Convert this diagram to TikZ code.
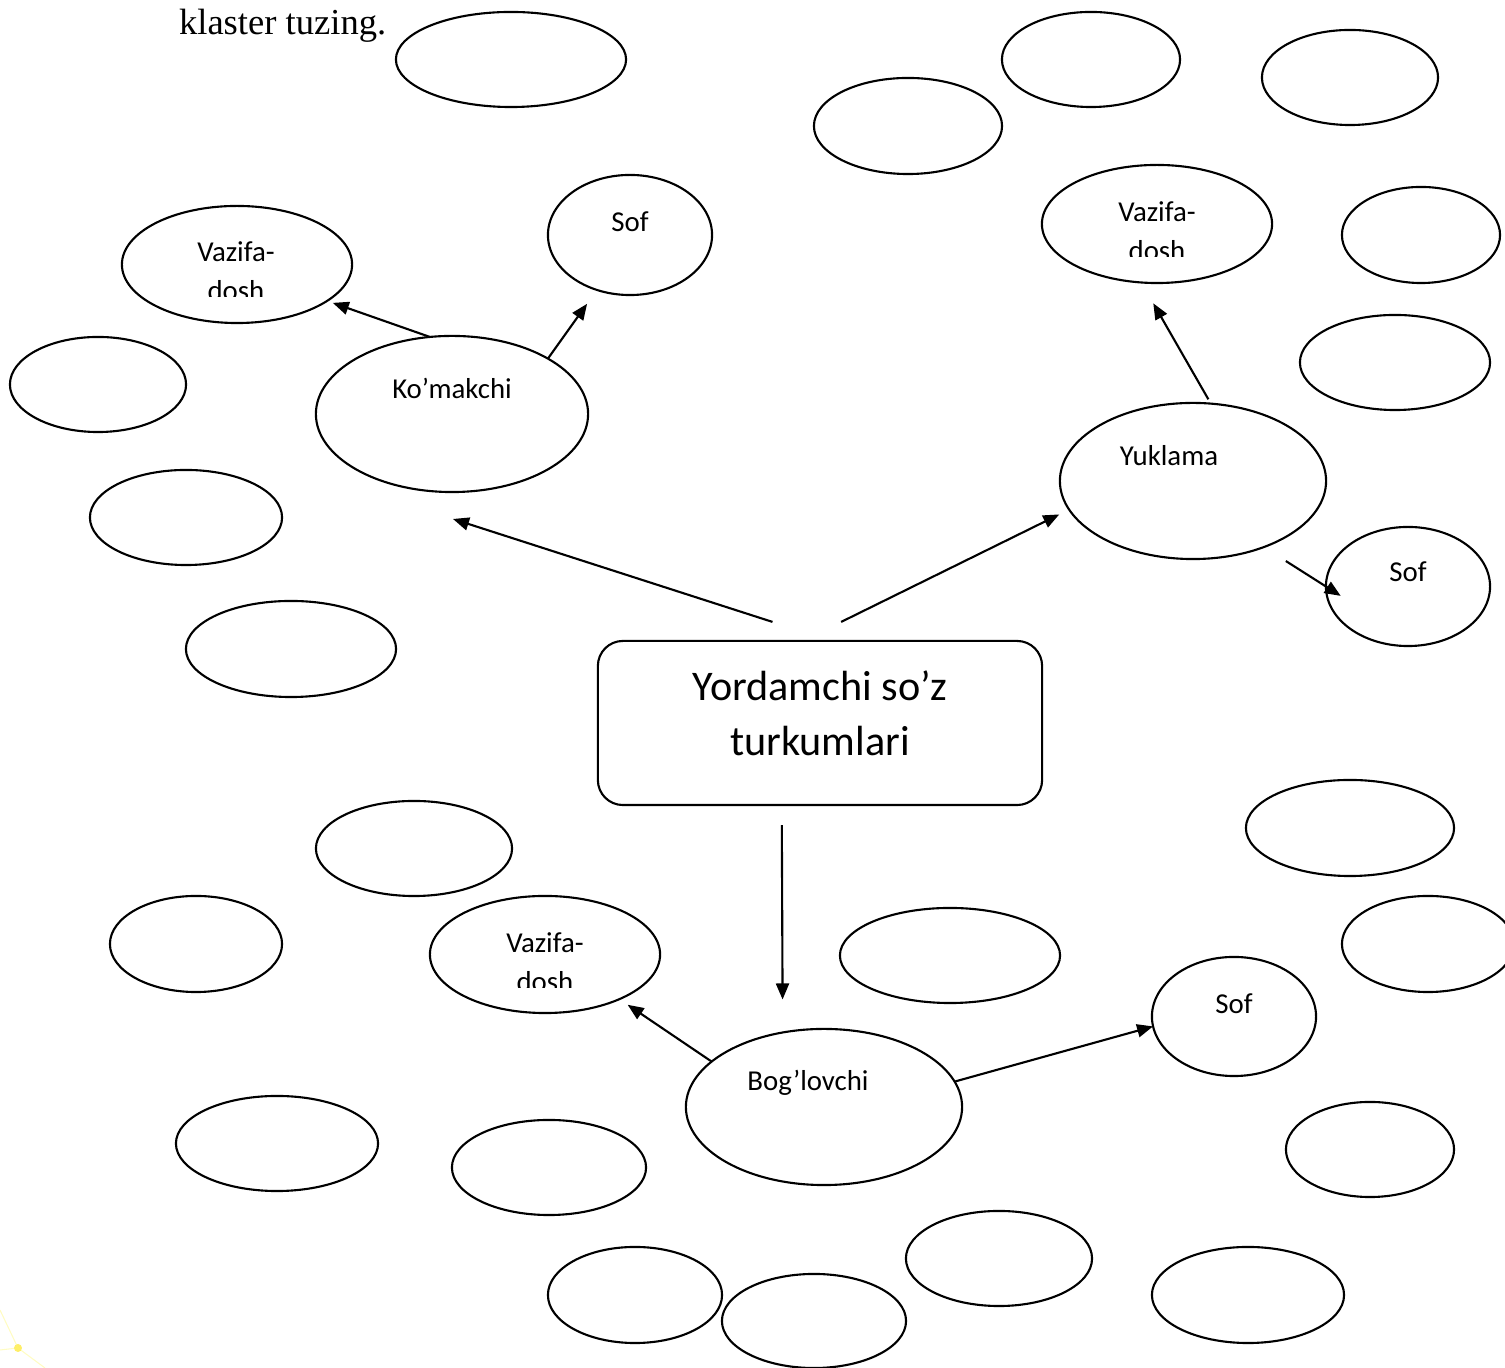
\documentclass[tikz,border=0pt]{standalone}
\usepackage{fontspec}
\setmainfont{Carlito}
\newfontfamily\timesfont{Liberation Serif}
\usetikzlibrary{shapes.geometric,arrows.meta}
\begin{document}
\begin{tikzpicture}[x=.01cm,y=-.01cm,line width=.6pt,
		bub/.style={draw,ellipse,inner sep=0pt,outer sep=0pt},
		lbl/.style={font=\fontsize{8.2}{10.2}\selectfont,inner sep=0pt,anchor=base},
		arr/.style={-{Triangle[length=.16cm,width=.13cm]}}]
			\useasboundingbox (0,0) rectangle (1505,1368);
			\node[font=\timesfont\fontsize{10.4}{12}\selectfont,inner sep=0pt,anchor=base west] (task) at (178,35) {klaster tuzing.};
			\foreach \n/\x/\y/\a/\b in {e1/511/59.5/115/47.5,e2/1091/59.5/89/47.5,e3/1350/77.5/88/47.5,e4/908/126/94/48,
				vzl/237/264.5/115/58.5,sofa/630/235/82/60,vzr/1157/224/115/59,e5/1421/235/79/48,e6/1395/362.5/95/47.5,
				e7/98/384.5/88/47.5,kom/452/414/136/78,e8/186/517.5/96/47.5,e9/291/649/105/48,yuk/1193/481/133/78,
				sofr/1408/586.5/82/59.5,e10/414/848.5/98/47.5,e11/1350/828/104/48,e12/196/944/86/48,vzb/545/954.5/115/58.5,
				e13/950/955.5/110/47.5,e14/1428/944/86/48,sofb/1234/1016.5/82/59.5,bog/824/1107/138/78,e15/277/1143.5/101/47.5,
				e16/549/1167.5/97/47.5,e17/1370/1149.5/84/47.5,e18/999/1258.5/93/47.5,e19/635/1295/87/48,e20/814/1321/92/47,
				e21/1248/1295/96/48}
			\node[bub,minimum width=\a*.02cm,minimum height=\b*.02cm] (\n) at (\x,\y) {};
			\node[draw,rounded corners=.25cm,minimum width=4.44cm,minimum height=1.64cm,outer sep=0pt] (box) at (820,723) {};
			\node[font=\fontsize{12}{15.9}\selectfont,align=center,inner sep=0pt,anchor=base] (boxtext) at (820,756) {Yordamchi so’z\\turkumlari};
			\foreach \x/\b in {236/262,1157/222,545/953} {
				\node[lbl] at (\x,\b) {Vazifa-};
				\begin{scope}
					\clip (\x-60,\b) rectangle (\x+60,\b+35);
					\node[lbl] at (\x,\b+39) {dosh};
				\end{scope}
			}
			\foreach \t/\x/\y in {Sof/630/232,Sof/1408/582,Sof/1234/1014,Ko’makchi/452/398.5,Yuklama/1169/465.5,Bog’lovchi/808/1090.5}
			\node[lbl] at (\x,\y) {\t};
			\coordinate (a3) at (453,519);
			\draw[arr,shorten >=.06cm] (kom.106)--(vzl.-22);
			\draw[arr,shorten >=.17cm] (kom.30)--(sofa.-121);
			\draw[arr,shorten <=.62cm] (box.82)--(a3);
			\draw[arr,shorten <=.43cm,shorten >=.11cm] (box.102)--(yuk.193);
			\draw[arr,shorten <=.05cm,shorten >=.24cm] (yuk.77)--(vzr.-105);
			\draw[arr,shorten <=.26cm,shorten >=-.175cm] (yuk.-43)--(sofr.180);
			\draw[arr,shorten <=.2cm,shorten >=.33cm] (box.245)--(bog.119.5);
			\draw[arr,shorten >=.1cm] (bog.158.6)--(vzb.-31.3);
			\draw[arr] (bog.11.3)--(sofb.187.3);
			\fill[yellow!85!orange,opacity=.6] (18,1348) circle (4);
			\draw[yellow!60,opacity=.4,line width=.3pt] (0,1310)--(18,1348)--(45,1368) (0,1350)--(18,1348);
		\end{tikzpicture}
\end{document}
